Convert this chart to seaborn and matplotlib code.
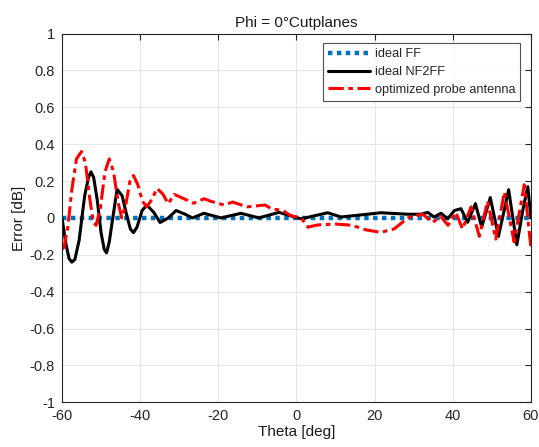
import pandas as pd
import seaborn as sns
import matplotlib.pyplot as plt

# theta axis + readings from the picture
ff_theta = [-60, 60]
ff_err = [0.0, 0.0]

nf_theta = [-60, -59.0, -58.2, -57.5, -56.7, -55.6, -54.2, -53.2, -52.6, -51.9,
            -51.0, -50.0, -49.2, -48.6, -47.9, -47.0, -45.9, -44.6, -43.5, -42.5,
            -41.7, -40.8, -39.5, -38.3, -36.5, -34.9, -32.8, -30.8,
            -28.5, -26.6, -23.7, -19.3, -14.2, -9.6, -4.5, 1.2, 8.0, 11.4, 18.2,
            21.6, 28.5, 31.9, 33.6, 35.2, 37.0, 38.7, 40.4, 42.1, 43.8,
            45.8, 47.4, 49.6, 51.7, 54.3, 56.4, 58.0, 59.2, 60]
nf_err = [0.0, -0.14, -0.22, -0.24, -0.225, -0.12, 0.12, 0.22, 0.25, 0.22,
          0.1, -0.08, -0.17, -0.19, -0.13, 0.0, 0.155, 0.12, 0.02, -0.06,
          -0.08, -0.05, 0.04, 0.07, 0.03, -0.025, 0.0, 0.04,
          0.02, 0.0, 0.025, 0.0, 0.025, 0.0, 0.03, -0.005, 0.028, 0.005, 0.02,
          0.028, 0.02, 0.02, 0.03, 0.005, 0.025, -0.005, 0.04, 0.05, -0.024,
          0.077, -0.05, 0.11, -0.1, 0.153, -0.146, 0.05, 0.17, 0.0]

opt_theta = [-60, -59.5, -58.5, -57.5, -56.3, -55.0, -54.0, -53.0, -52.0, -51.3,
             -50.2, -49.0, -47.9, -46.8, -45.6, -44.7, -43.6, -42.6, -41.7, -40.6,
             -39.4, -38.3, -37.0, -35.7, -34.2, -32.8,
             -31.3, -26.3, -23.6, -21.9, -18.5, -16.3, -12.7, -8.0, -6.5, -3.5,
             -1.4, 1.2, 2.9, 5.5, 10.0, 14.2, 17.8, 21.6, 25.0, 28.5,
             30.1, 32.3, 34.9, 36.8, 38.8, 40.8, 42.5, 44.7, 46.8, 48.9,
             51.0, 53.2, 55.7, 58.3, 60]
opt_err = [-0.17, -0.16, -0.05, 0.15, 0.32, 0.36, 0.3, 0.12, -0.02, -0.04,
           0.05, 0.25, 0.32, 0.25, 0.08, 0.0, 0.08, 0.2, 0.23, 0.18,
           0.09, 0.06, 0.1, 0.16, 0.13, 0.077,
           0.128, 0.08, 0.104, 0.09, 0.07, 0.086, 0.06, 0.07, 0.05, 0.04,
           0.012, 0.0, -0.05, -0.038, -0.033, -0.04, -0.065, -0.078, -0.06, 0.0,
           0.01, 0.02, -0.025, 0.01, -0.04, 0.03, -0.06, 0.06, -0.1, 0.09,
           -0.115, 0.14, -0.13, 0.18, -0.16]

sns.set_style("whitegrid")
plt.rcParams['font.family'] = ['Liberation Sans', 'DejaVu Sans']

fig = plt.figure(figsize=(5.39, 4.47), dpi=100)
ax = fig.add_axes([0.115, 0.100, 0.870, 0.825])

sns.lineplot(x=ff_theta, y=ff_err, ax=ax, color='#0072BD', lw=3.2,
             linestyle=(0, (1, 1)), label='ideal FF')
sns.lineplot(x=nf_theta, y=nf_err, ax=ax, color='black', lw=2.2,
             label='ideal NF2FF')
sns.lineplot(x=opt_theta, y=opt_err, ax=ax, color='#FF0000', lw=2.2,
             linestyle=(0, (5, 1.5, 1.5, 1.5)), label='optimized probe antenna')

ax.set_xlim(-60, 60)
ax.set_ylim(-1, 1)
ax.set_xticks(range(-60, 61, 20))
ax.set_yticks([round(-1 + 0.2 * i, 1) for i in range(11)])
ax.set_yticklabels(['-1', '-0.8', '-0.6', '-0.4', '-0.2', '0',
                    '0.2', '0.4', '0.6', '0.8', '1'])
ax.set_xticklabels(['-60', '-40', '-20', '0', '20', '40', '60'])
ax.grid(color='#e6e6e6', lw=0.8)
for s in ax.spines.values():
    s.set_color('#262626')
    s.set_linewidth(0.8)
ax.tick_params(direction='in', length=4, width=0.8, colors='#262626',
               top=True, right=True, labelsize=10.5)
ax.tick_params(axis='x', pad=5)
ax.tick_params(axis='y', pad=5)

ax.set_title('Phi = 0°Cutplanes', fontsize=11, color='#1a1a1a', pad=5)
ax.set_xlabel('Theta [deg]', fontsize=11, color='#1a1a1a', labelpad=1)
ax.set_ylabel('Error [dB]', fontsize=11, color='#1a1a1a', labelpad=3)

leg = ax.legend(loc='upper right', bbox_to_anchor=(0.977, 0.974), fontsize=9.2,
                frameon=True, fancybox=False, handlelength=3.26,
                handletextpad=0.35, borderpad=0.4, labelspacing=0.45,
                borderaxespad=0)
leg.get_frame().set_edgecolor('#262626')
leg.get_frame().set_linewidth(0.8)

fig.savefig('out.png', dpi=100)
